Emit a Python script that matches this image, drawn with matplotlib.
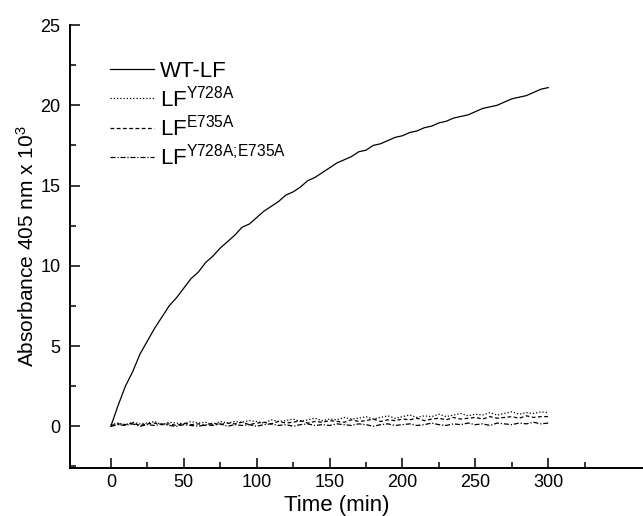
import matplotlib
matplotlib.use("Agg")
import matplotlib.pyplot as plt
import numpy as np
from matplotlib.ticker import MultipleLocator

plt.rcParams["font.family"] = ["Liberation Sans", "DejaVu Sans"]
plt.rcParams["mathtext.fontset"] = "custom"
plt.rcParams["mathtext.rm"] = "Liberation Sans"
plt.rcParams["mathtext.it"] = "Liberation Sans:italic"

# time grid (min), one reading every 5 min
time_min = np.arange(0, 301, 5)

# absorbance 405 nm x 10^3
wt_lf = [
    0.0, 1.3, 2.5, 3.4, 4.5, 5.3, 6.1, 6.8, 7.5, 8.0,
    8.6, 9.2, 9.6, 10.2, 10.6, 11.1, 11.5, 11.9, 12.4, 12.6,
    13.0, 13.4, 13.7, 14.0, 14.4, 14.6, 14.9, 15.3, 15.5, 15.8,
    16.1, 16.4, 16.6, 16.8, 17.1, 17.2, 17.5, 17.6, 17.8, 18.0,
    18.1, 18.3, 18.4, 18.6, 18.7, 18.9, 19.0, 19.2, 19.3, 19.4,
    19.6, 19.8, 19.9, 20.0, 20.2, 20.4, 20.5, 20.6, 20.8, 21.0,
    21.1,
]
lf_y728a = [
    0.1, 0.2, 0.1, 0.25, 0.15, 0.2, 0.3, 0.1, 0.25, 0.2,
    0.15, 0.3, 0.2, 0.25, 0.1, 0.3, 0.2, 0.3, 0.25, 0.35,
    0.3, 0.2, 0.4, 0.3, 0.35, 0.45, 0.3, 0.4, 0.5, 0.35,
    0.45, 0.4, 0.55, 0.45, 0.5, 0.6, 0.45, 0.55, 0.65, 0.5,
    0.6, 0.7, 0.55, 0.65, 0.6, 0.75, 0.6, 0.7, 0.8, 0.65,
    0.75, 0.7, 0.85, 0.7, 0.8, 0.9, 0.75, 0.85, 0.8, 0.9,
    0.85,
]
lf_e735a = [
    0.05, 0.15, 0.1, 0.2, 0.05, 0.15, 0.2, 0.1, 0.15, 0.05,
    0.2, 0.1, 0.15, 0.05, 0.2, 0.1, 0.2, 0.15, 0.25, 0.1,
    0.2, 0.25, 0.15, 0.3, 0.2, 0.25, 0.35, 0.2, 0.3, 0.25,
    0.35, 0.3, 0.25, 0.4, 0.3, 0.35, 0.45, 0.3, 0.4, 0.35,
    0.45, 0.4, 0.5, 0.35, 0.45, 0.5, 0.4, 0.55, 0.45, 0.5,
    0.55, 0.45, 0.6, 0.5, 0.55, 0.6, 0.5, 0.65, 0.55, 0.6,
    0.6,
]
lf_double = [
    0.0, 0.1, 0.05, 0.15, 0.0, 0.1, 0.05, 0.15, 0.05, 0.0,
    0.1, 0.05, 0.0, 0.1, 0.05, 0.15, 0.0, 0.1, 0.05, 0.1,
    0.0, 0.1, 0.15, 0.05, 0.1, 0.0, 0.1, 0.15, 0.05, 0.1,
    0.05, 0.15, 0.1, 0.05, 0.15, 0.1, 0.0, 0.1, 0.15, 0.05,
    0.1, 0.15, 0.05, 0.1, 0.2, 0.1, 0.05, 0.15, 0.1, 0.2,
    0.1, 0.15, 0.05, 0.2, 0.15, 0.1, 0.2, 0.15, 0.25, 0.15,
    0.2,
]

series = [
    ("WT-LF", wt_lf, "-"),
    (r"LF$^{\mathrm{Y728A}}$", lf_y728a, (0, (1, 1.6))),
    (r"LF$^{\mathrm{E735A}}$", lf_e735a, (0, (3, 2))),
    (r"LF$^{\mathrm{Y728A;\!E735A}}$", lf_double, (0, (4, 1.5, 1, 1.5))),
]

fig = plt.figure(figsize=(6.43, 5.16), dpi=100)
ax = fig.add_axes([70 / 643, 48 / 516, 573 / 643, 443 / 516])

for label, values, ls in series:
    ax.plot(time_min, values, color="black", lw=0.9, ls=ls, label=label)

ax.set_xlim(-28, 365)
ax.set_ylim(-2.6, 25)
ax.set_xticks(np.arange(0, 301, 50))
ax.set_xticks(np.arange(25, 326, 50), minor=True)
ax.yaxis.set_major_locator(MultipleLocator(5))
ax.yaxis.set_minor_locator(MultipleLocator(2.5))

for side in ("top", "right"):
    ax.spines[side].set_visible(False)
for side in ("left", "bottom"):
    ax.spines[side].set_linewidth(1.4)

ax.tick_params(which="major", direction="in", length=7, width=1.1, labelsize=13)
ax.tick_params(axis="x", which="major", pad=4)
ax.tick_params(axis="y", which="major", pad=7)
ax.tick_params(which="minor", direction="in", length=4, width=1.1)

ax.set_xlabel("Time (min)", fontsize=16, va="center")
ax.xaxis.set_label_coords(267 / 573, -37 / 443)
ax.set_ylabel(r"Absorbance 405 nm x 10$^{3}$", fontsize=15, labelpad=2)

ax.legend(
    loc="upper left",
    bbox_to_anchor=(40 / 573, 1 - 36 / 443),
    frameon=False,
    fontsize=16,
    handlelength=2.0,
    handletextpad=0.25,
    labelspacing=0.15,
    borderpad=0,
    borderaxespad=0,
)

fig.savefig("out.png", dpi=100)
